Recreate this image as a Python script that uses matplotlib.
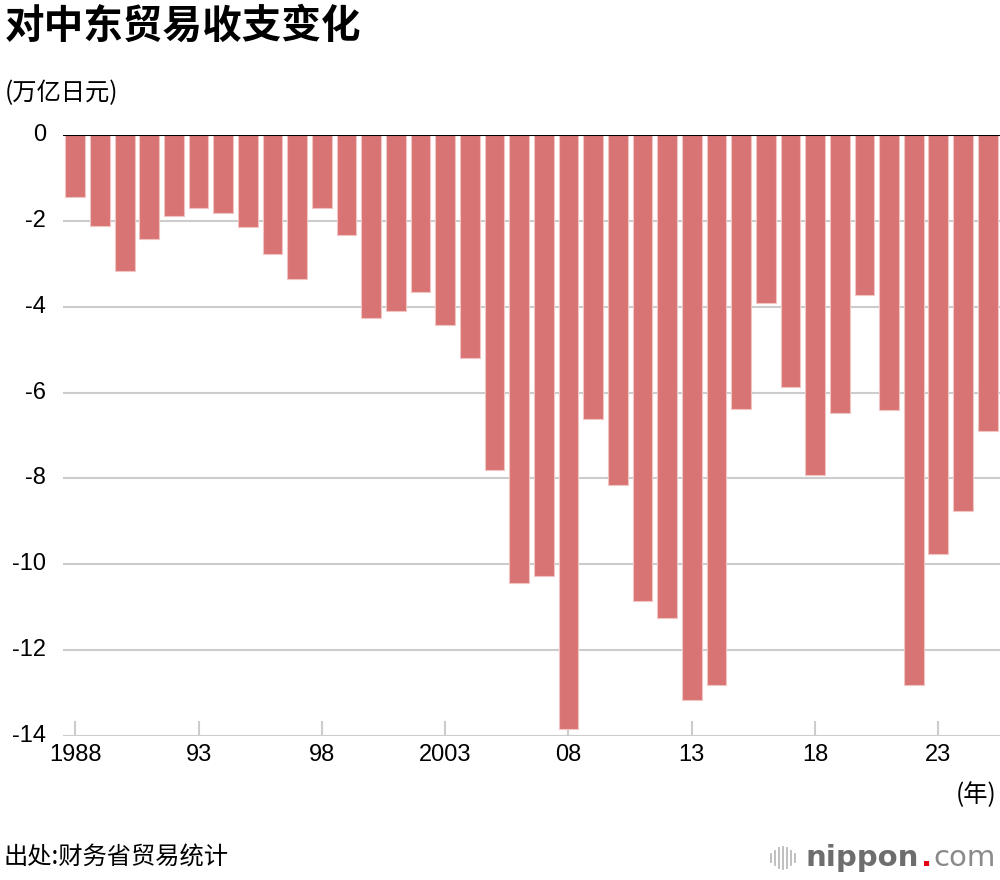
import matplotlib
matplotlib.use("Agg")
import matplotlib.pyplot as plt

plt.rcParams['font.family'] = ['Noto Sans CJK SC', 'DejaVu Sans']

years = list(range(1988, 2026))
balance = [-1.44, -2.12, -3.17, -2.42, -1.89, -1.70, -1.82, -2.14, -2.77, -3.35,
           -1.70, -2.33, -4.26, -4.10, -3.66, -4.43, -5.19, -7.80, -10.44, -10.27,
           -13.84, -6.62, -8.15, -10.86, -11.25, -13.16, -12.81, -6.38, -3.91, -5.87,
           -7.92, -6.48, -3.73, -6.41, -12.81, -9.77, -8.76, -6.90]
tick_years = [1988, 1993, 1998, 2003, 2008, 2013, 2018, 2023]
tick_labels = ["1988", "93", "98", "2003", "08", "13", "18", "23"]
y_ticks = [0, -2, -4, -6, -8, -10, -12, -14]

fig = plt.figure(figsize=(10, 8.8), dpi=100)
ax = fig.add_axes([0.063, 0.1636, 0.937, 0.683])

ax.bar(years, balance, width=0.8, color='#d97474', edgecolor='#f2c4c4', linewidth=0.8, zorder=2)

ax.set_xlim(1987.5, 2025.5)
ax.set_ylim(-14, 0)
ax.set_yticks(y_ticks)
ax.set_yticklabels([str(v) for v in y_ticks], fontsize=17, family=['Liberation Sans'])
ax.set_xticks(tick_years)
ax.set_xticklabels(tick_labels, fontsize=17, family=['Liberation Sans'])

for v in y_ticks[1:]:
    ax.axhline(v, color='#cccccc', linewidth=1.5, zorder=1)
ax.axhline(0, color='black', linewidth=1.5, zorder=3)

for s in ax.spines.values():
    s.set_visible(False)
ax.tick_params(axis='y', length=0, pad=12)
ax.tick_params(axis='x', direction='in', length=11, width=1.5, color='#cccccc', pad=6)
for lab in ax.get_yticklabels():
    lab.set_verticalalignment('center')

fig.text(0.005, 0.970, "对中东贸易收支变化", fontsize=28.5, fontweight='bold', va='center', ha='left')
fig.text(0.005, 0.894, "(万亿日元)", fontsize=17.5, va='center', ha='left')
fig.text(0.997, 0.097, "(年)", fontsize=17.5, va='center', ha='right')
fig.text(0.003, 0.025, "出处:财务省贸易统计", fontsize=17.5, va='center', ha='left')

# nippon.com logo
fig.text(0.805, 0.025, "nippon", fontsize=21, fontweight='bold', color='#6e6e6e',
         va='center', ha='left', family=['DejaVu Sans'])
fig.text(0.921, 0.025, ".", fontsize=21, fontweight='bold', color='#e60012',
         va='center', ha='left', family=['DejaVu Sans'])
fig.text(0.933, 0.025, "com", fontsize=21, color='#8a8a8a',
         va='center', ha='left', family=['DejaVu Sans'])
for i, h in enumerate([0.010, 0.016, 0.022, 0.026, 0.022, 0.016, 0.010]):
    x = 0.771 + i * 0.004
    fig.add_artist(plt.Line2D([x, x], [0.025 - h / 2, 0.025 + h / 2], color='#bbbbbb',
                              linewidth=1.3, transform=fig.transFigure))

fig.savefig("out.png", dpi=100)
